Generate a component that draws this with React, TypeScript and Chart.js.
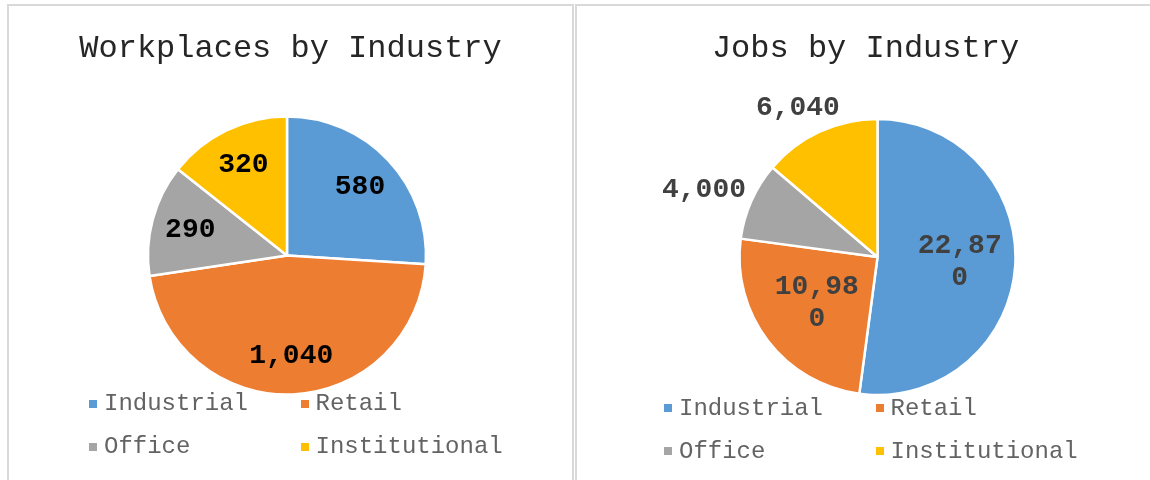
import React, { useEffect, useRef } from "react";
import { Chart, registerables } from "chart.js";

Chart.register(...registerables);

const FONT = "'Courier New', 'Liberation Mono', 'DejaVu Sans Mono', monospace";

// ---- data ----
const categories = ["Industrial", "Retail", "Office", "Institutional"];
const sliceColors = ["#5B9BD5", "#ED7D31", "#A5A5A5", "#FFC000"];

const workplacesTitle = "Workplaces by Industry";
const workplacesValues = [580, 1040, 290, 320];
const workplacesLabelSides = ["inside", "inside", "inside", "inside"];

const jobsTitle = "Jobs by Industry";
const jobsValues = [22870, 10980, 4000, 6040];
const jobsLabelSides = ["inside", "inside", "outside", "outside"];

const fmt = new Intl.NumberFormat("en-US");

function wrapChars(ctx: CanvasRenderingContext2D, text: string, maxWidth: number) {
  const lines: string[] = [];
  let cur = "";
  for (const ch of text) {
    if (cur && ctx.measureText(cur + ch).width > maxWidth) {
      lines.push(cur);
      cur = ch;
    } else {
      cur += ch;
    }
  }
  if (cur) lines.push(cur);
  return lines;
}

const sliceLabels = {
  id: "sliceLabels",
  afterDatasetsDraw(chart: any, _args: any, opts: any) {
    const ctx: CanvasRenderingContext2D = chart.ctx;
    const meta = chart.getDatasetMeta(0);
    const data = chart.data.datasets[0].data as number[];
    ctx.save();
    ctx.textAlign = "center";
    ctx.textBaseline = "middle";
    meta.data.forEach((arc: any, i: number) => {
      const { x, y, startAngle, endAngle, outerRadius } = arc;
      const mid = (startAngle + endAngle) / 2;
      const cos = Math.cos(mid);
      const sin = Math.sin(mid);
      const side = opts.sides[i];
      ctx.font = `bold ${opts.size}px ${FONT}`;
      const lines = wrapChars(ctx, fmt.format(data[i]), opts.maxWidth);
      const lh = opts.lineHeight;
      const w = Math.max(...lines.map((l) => ctx.measureText(l).width));
      const h = lines.length * lh;
      let cx: number;
      let cy: number;
      if (side === "outside") {
        // anchor on the rim, then push the label box outward
        const ax = x + cos * outerRadius;
        const ay = y + sin * outerRadius;
        cx = ax + cos * (w / 2 + opts.offset);
        cy = ay + sin * (h / 2 + opts.offset);
      } else {
        let d = outerRadius * opts.radiusFraction;
        const limit = outerRadius - opts.margin;
        while (d > 0) {
          const far = Math.hypot(Math.abs(cos * d) + w / 2, Math.abs(sin * d) + h / 2);
          if (far <= limit) break;
          d -= 1;
        }
        cx = x + cos * d;
        cy = y + sin * d;
      }
      ctx.fillStyle = opts.color;
      lines.forEach((l, k) => ctx.fillText(l, cx, cy - h / 2 + lh / 2 + k * lh));
    });
    ctx.restore();
  },
};

type PieProps = {
  values: number[];
  sides: string[];
  labelColor: string;
  left: number;
  top: number;
  width: number;
  height: number;
  padding: { left: number; right: number; top: number; bottom: number };
  radius: number;
};

function PieCanvas(p: PieProps) {
  const ref = useRef<HTMLCanvasElement | null>(null);
  useEffect(() => {
    if (!ref.current) return;
    const chart = new Chart(ref.current, {
      type: "pie",
      data: {
        labels: categories,
        datasets: [
          {
            data: p.values,
            backgroundColor: sliceColors,
            borderColor: "#ffffff",
            borderWidth: 2.5,
          },
        ],
      },
      options: {
        responsive: false,
        animation: false,
        events: [],
        radius: p.radius,
        layout: { padding: p.padding },
        plugins: {
          legend: { display: false },
          title: { display: false },
          tooltip: { enabled: false },
          sliceLabels: {
            sides: p.sides,
            color: p.labelColor,
            size: 28,
            lineHeight: 32,
            maxWidth: 90,
            radiusFraction: 0.72,
            margin: 8,
            offset: 10,
          },
        } as any,
      } as any,
      plugins: [sliceLabels as any],
    });
    return () => chart.destroy();
  }, []);
  return (
    <canvas
      ref={ref}
      width={p.width}
      height={p.height}
      style={{ position: "absolute", left: p.left, top: p.top, width: p.width, height: p.height }}
    />
  );
}

function Title({ text, center }: { text: string; center: number }) {
  return (
    <div
      style={{
        position: "absolute",
        left: center - 300,
        top: 28.5,
        width: 600,
        textAlign: "center",
        font: `32px ${FONT}`,
        lineHeight: "40px",
        color: "#262626",
        whiteSpace: "nowrap",
      }}
    >
      {text}
    </div>
  );
}

function Legend({ left, top, rowHeight }: { left: number; top: number; rowHeight: number }) {
  return (
    <div
      style={{
        position: "absolute",
        left,
        top,
        display: "grid",
        gridTemplateColumns: "211.5px 211.5px",
        gridAutoRows: `${rowHeight}px`,
      }}
    >
      {categories.map((c, i) => (
        <div key={c} style={{ display: "flex", alignItems: "center", whiteSpace: "nowrap" }}>
          <span
            style={{ width: 8, height: 8, background: sliceColors[i], marginRight: 7, flex: "none" }}
          />
          <span style={{ font: `24px ${FONT}`, lineHeight: `${rowHeight}px`, color: "#636363" }}>{c}</span>
        </div>
      ))}
    </div>
  );
}

export default function App() {
  const panel: React.CSSProperties = {
    position: "absolute",
    top: 4,
    height: 500,
    border: "2px solid #d9d9d9",
    boxSizing: "border-box",
    background: "#fff",
  };
  return (
    <div
      style={{
        position: "absolute",
        left: 0,
        top: 0,
        width: 1150,
        height: 480,
        overflow: "hidden",
        background: "#fff",
      }}
    >
      <div style={{ ...panel, left: 7, width: 567 }} />
      <div style={{ ...panel, left: 575, width: 600 }} />
      <PieCanvas
        values={workplacesValues}
        sides={workplacesLabelSides}
        labelColor="#000000"
        left={9}
        top={6}
        width={563}
        height={474}
        padding={{ left: 0, right: 7, top: 25, bottom: 0 }}
        radius={139}
      />
      <PieCanvas
        values={jobsValues}
        sides={jobsLabelSides}
        labelColor="#404040"
        left={577}
        top={6}
        width={573}
        height={474}
        padding={{ left: 28, right: 0, top: 28, bottom: 0 }}
        radius={138}
      />
      <Title text={workplacesTitle} center={290.5} />
      <Title text={jobsTitle} center={865.5} />
      <Legend left={89} top={383} rowHeight={42.6} />
      <Legend left={664} top={386.6} rowHeight={43} />
    </div>
  );
}
